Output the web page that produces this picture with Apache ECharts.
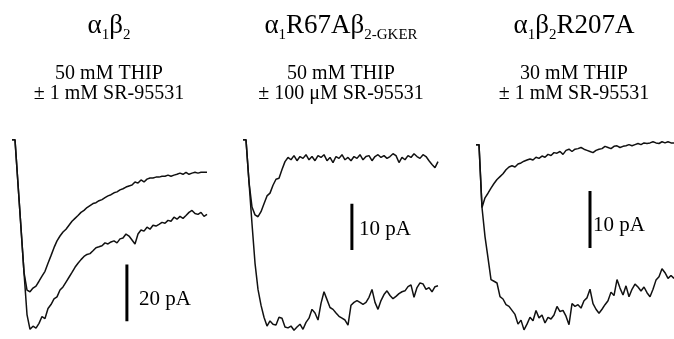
<!DOCTYPE html>
<html>
<head>
<meta charset="utf-8">
<script src="https://cdn.jsdelivr.net/npm/echarts@6/dist/echarts.min.js"></script>
<style>
  html, body { margin: 0; padding: 0; background: #fff; }
  #chart { width: 674px; height: 339px; }
</style>
</head>
<body>
<div id="chart"></div>
<script>
// current traces in pA, one sample per step; each panel: upper = THIP + SR-95531, lower = THIP alone
const upper1 = [
  0, 0, -15.5, -31.0, -46.6, -52.8, -53.4, -52.1, -51.4, -49.7,
  -47.9, -46.2, -43.4, -40.7, -37.9, -35.5, -33.8, -32.4, -31.4, -30.0,
  -28.6, -27.6, -26.6, -25.5, -24.8, -23.8, -23.1, -22.4, -22.1, -21.4,
  -21.0, -20.3, -19.7, -19.3, -18.6, -18.3, -17.6, -17.2, -16.6, -16.2,
  -15.9, -14.8, -15.2, -14.1, -14.8, -13.8, -13.4, -13.4, -13.1, -13.1,
  -12.8, -12.8, -12.4, -12.8, -12.4, -12.1, -11.7, -12.1, -11.4, -12.1,
  -11.7, -11.4, -11.7, -11.4, -11.4, -11.4,
]
const lower1 = [
  0, 0, -15.5, -31.0, -46.6, -61.4, -66.6, -65.5, -66.2, -64.5,
  -62.1, -62.8, -59.3, -57.9, -55.9, -55.2, -52.8, -51.7, -50.0, -48.3,
  -46.6, -44.8, -43.4, -42.1, -41.0, -40.3, -40.0, -39.0, -37.9, -37.6,
  -37.2, -36.2, -36.6, -35.9, -35.5, -36.2, -34.8, -34.5, -33.1, -33.8,
  -35.2, -36.6, -33.1, -31.7, -32.1, -30.7, -31.4, -30.0, -30.3, -29.7,
  -29.0, -29.3, -28.3, -28.6, -27.2, -27.9, -26.9, -27.6, -26.6, -25.5,
  -24.8, -25.9, -26.2, -25.5, -26.9, -26.2,
]
const upper2 = [
  0, 0, -9.1, -14.5, -16.2, -16.6, -15.5, -13.8, -12.1, -11.5,
  -9.8, -8.5, -8.3, -6.4, -4.7, -3.8, -4.3, -3.4, -4.5, -3.6,
  -4.0, -3.2, -4.3, -3.6, -4.5, -3.4, -3.8, -3.2, -4.5, -3.8,
  -4.9, -3.6, -4.0, -3.2, -4.3, -3.8, -4.5, -3.6, -4.0, -3.2,
  -4.3, -3.6, -3.4, -4.5, -3.6, -3.2, -3.8, -3.4, -4.0, -3.6,
  -3.0, -3.4, -4.9, -3.8, -4.3, -3.4, -3.8, -3.0, -3.6, -4.0,
  -3.2, -3.6, -4.5, -5.3, -6.0, -4.7,
]
const lower2 = [
  0, 0, -9.1, -18.1, -26.6, -32.3, -35.7, -38.3, -40.2, -39.1,
  -39.8, -40.0, -38.3, -38.5, -40.4, -40.6, -40.2, -41.1, -40.4, -39.8,
  -40.9, -39.4, -38.5, -36.6, -37.4, -38.9, -35.3, -32.8, -34.5, -36.2,
  -36.6, -37.4, -38.1, -38.5, -38.9, -40.0, -35.7, -35.1, -34.7, -35.1,
  -35.5, -35.1, -34.0, -32.3, -35.1, -36.6, -34.7, -33.4, -32.6, -33.6,
  -34.3, -33.8, -33.2, -32.8, -32.6, -31.7, -31.3, -34.0, -31.9, -30.9,
  -31.1, -32.3, -31.9, -32.8, -31.7, -31.5,
]
const upper3 = [
  0, 0, -11.0, -9.3, -8.5, -7.6, -6.8, -6.1, -5.6, -5.1,
  -4.4, -3.9, -3.7, -3.9, -3.4, -3.2, -2.9, -2.7, -2.5, -2.7,
  -2.2, -2.4, -2.0, -2.2, -1.7, -1.9, -1.4, -1.5, -1.2, -1.7,
  -1.0, -0.8, -1.2, -0.8, -0.7, -0.5, -0.8, -1.0, -1.2, -1.4,
  -1.0, -0.8, -0.7, -0.3, -0.5, -0.7, -0.3, -0.2, -0.5, -0.3,
  -0.2, 0, -0.2, 0, 0.2, 0, 0.3, 0.2, 0.3, 0.5,
  0.3, 0.2, 0.5, 0.3, 0.5, 0.3, 0.3,
]
const lower3 = [
  0, 0, -11.0, -16.1, -19.8, -23.6, -23.9, -24.2, -26.6, -27.0,
  -28.0, -28.3, -29.0, -29.7, -31.4, -30.7, -32.4, -31.4, -30.2, -30.8,
  -29.0, -30.3, -29.8, -31.2, -30.2, -30.5, -29.8, -28.3, -29.2, -29.0,
  -30.0, -31.5, -27.8, -28.3, -28.0, -28.6, -27.3, -26.8, -25.3, -27.8,
  -28.8, -29.5, -28.8, -28.0, -27.3, -25.8, -26.4, -23.6, -25.1, -26.3,
  -24.7, -26.6, -25.3, -24.4, -24.9, -25.6, -24.9, -25.9, -26.6, -25.3,
  -23.7, -23.1, -21.7, -22.4, -23.4, -22.9, -23.4,
]

const constructs = [
  '{a|α}{s|1}{a|β}{s|2}',
  '{a|α}{s|1}{a|R67Aβ}{s|2-GKER}',
  '{a|α}{s|1}{a|β}{s|2}{a|R207A}',
]
const conditions = [
  '50 mM THIP\n± 1 mM SR-95531',
  '50 mM THIP\n± 100 μM SR-95531',
  '30 mM THIP\n± 1 mM SR-95531',
]
const scaleBarPA = [20, 10, 10]
const scaleLabels = ['20 pA', '10 pA', '10 pA']

const traces = [[upper1, lower1], [upper2, lower2], [upper3, lower3]]

// where each panel sits on the page
const layouts = [
  { left: 12, top: 131.3, width: 195, height: 211.7, yMin: -70, yMax: 3, center: 109, barX: 38.3, barLow: -63.8, gap: 12, dy: 7 },
  { left: 243, top: 130.6, width: 195, height: 211.5, yMin: -43, yMax: 2, center: 341, barX: 36.3, barLow: -23.8, gap: 7, dy: 3 },
  { left: 476, top: 133.2, width: 198, height: 212.4, yMin: -34, yMax: 2, center: 574, barX: 38, barLow: -18.1, gap: 3, dy: 6 },
]

const font = 'Liberation Serif, Times New Roman, serif'
const rich = {
  a: { fontSize: 27, lineHeight: 30, fontFamily: font, fontWeight: 'normal', color: '#000' },
  s: { fontSize: 15, lineHeight: 15, padding: [18, 0, 0, 0], fontFamily: font, fontWeight: 'normal', color: '#000' },
}

const chart = echarts.init(document.getElementById('chart'))

const title = []
const grid = []
const xAxis = []
const yAxis = []
const series = []

layouts.forEach((p, k) => {
  title.push({
    text: constructs[k],
    left: p.center,
    top: 11,
    textAlign: 'center',
    padding: 0,
    textStyle: { fontWeight: 'normal', rich },
  })
  title.push({
    text: conditions[k],
    left: p.center,
    top: 64,
    textAlign: 'center',
    padding: 0,
    textStyle: { fontFamily: font, fontSize: 20, lineHeight: 19.5, fontWeight: 'normal', color: '#000' },
  })
  grid.push({ left: p.left, top: p.top, width: p.width, height: p.height })
  xAxis.push({ type: 'value', gridIndex: k, min: 0, max: traces[k][0].length - 1, show: false })
  yAxis.push({ type: 'value', gridIndex: k, min: p.yMin, max: p.yMax, show: false })

  traces[k].forEach(tr => {
    series.push({
      type: 'line',
      xAxisIndex: k,
      yAxisIndex: k,
      data: tr.map((v, i) => [i, v]),
      showSymbol: false,
      lineStyle: { color: '#111', width: 1.5 },
      clip: false,
      silent: true,
    })
  })

  const len = scaleBarPA[k]
  series.push({
    type: 'line',
    xAxisIndex: k,
    yAxisIndex: k,
    symbolSize: 0,
    showSymbol: true,
    lineStyle: { color: '#000', width: 3 },
    data: [
      [p.barX, p.barLow],
      {
        value: [p.barX, p.barLow + len / 2],
        label: {
          show: true,
          position: 'right',
          distance: p.gap,
          offset: [0, p.dy],
          formatter: scaleLabels[k],
          fontFamily: font,
          fontSize: 21,
          color: '#000',
        },
      },
      [p.barX, p.barLow + len],
    ],
    silent: true,
  })
})

const option = {
  animation: false,
  backgroundColor: '#fff',
  title,
  grid,
  xAxis,
  yAxis,
  series,
}

option && chart.setOption(option)
</script>
</body>
</html>
